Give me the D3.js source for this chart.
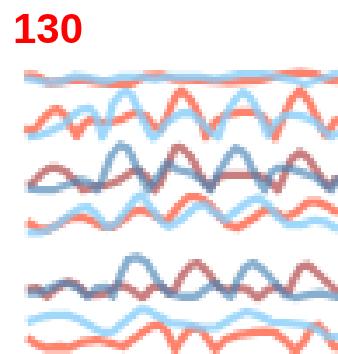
<!DOCTYPE html>
<html>
<head>
<meta charset="utf-8">
<script src="https://cdn.jsdelivr.net/npm/d3@7"></script>
<style>
  html, body { margin: 0; padding: 0; background: #fff; }
  #wrap { position: relative; width: 338px; height: 354px; }
  #lines { position: absolute; left: 0; top: 0; width: 338px; height: 354px; image-rendering: pixelated; }
  #overlay { position: absolute; left: 0; top: 0; }
</style>
</head>
<body>
<div id="wrap">
  <canvas id="lines" width="97" height="101"></canvas>
  <svg id="overlay" width="338" height="354"></svg>
</div>
<script>
// Frame label
const frameLabel = "130";

// Time domain shared by all panels
const timeDomain = [0, 313];

// Each series: [time, value above its panel baseline]
const rowA_blue = [[0,8],[20,4],[35,4],[50,10],[65,8],[80,4],[95,9],[115,9],[130,7],[143,9],[175,9],[190,7],[215,12],[240,12],[265,7],[280,2],[295,7],[313,13]];
const rowA_salmon = [[0,11],[12,10],[25,3],[40,5],[55,7],[70,4],[85,2],[105,2],[120,10],[135,11],[150,7],[175,6],[205,4],[235,6],[255,11],[275,14],[290,12],[300,7],[313,5]];

const rowB_salmon = [[0,12],[8,8],[15,17],[22,25],[28,30],[33,31],[40,25],[45,15],[52,4],[58,15],[65,20],[75,18],[85,18],[95,20],[105,25],[112,28],[122,23],[128,15],[135,10],[142,23],[150,43],[156,50],[166,40],[176,20],[181,3],[190,18],[200,25],[216,28],[230,28],[240,22],[246,10],[250,2],[256,17],[266,40],[275,50],[283,40],[293,20],[300,5],[306,13],[313,23]];
const rowB_blue = [[2,3],[15,5],[28,10],[38,15],[45,22],[55,30],[65,32],[72,22],[77,3],[82,13],[88,37],[98,48],[102,49],[108,43],[115,27],[123,10],[128,2],[135,8],[142,18],[156,27],[166,27],[176,18],[183,10],[193,3],[200,23],[210,40],[218,48],[226,42],[236,23],[243,5],[250,17],[260,25],[270,25],[280,23],[290,18],[300,8],[306,3],[313,8]];

const rowC_red = [[2,7],[8,9],[15,17],[25,24],[33,24],[42,19],[52,9],[58,2],[68,5],[82,7],[95,12],[107,20],[113,22],[122,15],[130,2],[135,9],[142,25],[150,44],[156,45],[166,35],[176,15],[185,4],[193,15],[203,17],[216,17],[233,17],[243,12],[253,2],[260,19],[266,32],[275,40],[283,34],[293,19],[303,5],[310,12],[313,15]];
const rowC_steel = [[2,4],[15,2],[28,2],[42,7],[55,12],[65,9],[72,2],[78,15],[85,35],[95,47],[103,44],[112,25],[118,12],[123,2],[132,14],[142,29],[153,22],[166,19],[176,12],[185,2],[193,19],[203,35],[211,44],[220,39],[228,22],[235,9],[240,2],[246,19],[253,24],[263,24],[276,20],[290,15],[300,7],[306,2],[313,15]];

const rowD_salmon = [[2,18],[12,12],[22,10],[32,15],[45,22],[58,23],[68,18],[78,13],[88,13],[98,20],[108,28],[118,30],[128,25],[138,20],[143,20],[153,33],[163,43],[173,43],[183,37],[193,25],[203,15],[213,12],[226,20],[240,30],[250,28],[260,22],[270,27],[283,38],[293,38],[303,33],[313,27]];
const rowD_blue = [[2,7],[15,7],[28,12],[42,23],[55,32],[63,33],[72,25],[82,12],[92,17],[102,30],[112,43],[117,45],[125,33],[135,20],[143,13],[156,20],[170,33],[180,35],[190,27],[200,20],[210,28],[223,38],[233,42],[243,35],[253,23],[263,15],[276,15],[290,20],[300,18],[310,12],[313,11]];

const rowE_red = [[2,10],[12,12],[22,3],[32,12],[43,18],[52,15],[62,5],[72,5],[82,7],[92,15],[102,13],[118,2],[128,13],[138,13],[143,7],[150,10],[156,23],[166,35],[173,37],[183,27],[193,13],[203,10],[213,12],[223,10],[233,2],[243,10],[253,13],[263,7],[270,23],[276,33],[283,35],[296,23],[310,10],[313,8]];
const rowE_steel = [[2,7],[15,7],[28,13],[38,17],[52,13],[62,3],[72,12],[82,13],[88,3],[95,23],[103,40],[112,43],[122,37],[132,20],[138,12],[143,7],[156,3],[170,3],[180,10],[190,17],[200,7],[206,3],[213,20],[221,33],[228,37],[238,30],[250,17],[260,5],[270,2],[283,5],[296,7],[310,3],[313,3]];

const rowF_blue = [[2,32],[15,36],[28,39],[42,39],[55,34],[68,26],[78,21],[88,22],[102,34],[115,44],[122,44],[135,37],[145,31],[160,29],[176,26],[193,27],[210,37],[221,42],[233,39],[246,32],[260,31],[276,29],[290,26],[303,17],[313,17]];
const rowF_salmon = [[2,16],[12,9],[22,6],[35,7],[45,6],[58,12],[72,14],[85,11],[98,7],[112,17],[125,27],[135,29],[142,22],[150,4],[156,14],[166,26],[176,24],[190,4],[200,14],[213,19],[226,21],[240,22],[250,21],[263,11],[270,2],[280,14],[286,26],[293,29],[300,22],[306,11],[313,4]];

const palette = {
  salmon: { color: "#ff6347", opacity: 0.8 },
  blue:   { color: "#87cefa", opacity: 0.8 },
  steel:  { color: "#4682b4", opacity: 0.64 },
  red:    { color: "#a52a2a", opacity: 0.6 }
};

const rows = [
  { base: 86,  series: [["salmon", rowA_salmon], ["blue", rowA_blue]] },
  { base: 140, series: [["salmon", rowB_salmon], ["blue", rowB_blue]] },
  { base: 192, series: [["red", rowC_red], ["steel", rowC_steel]] },
  { base: 240, series: [["salmon", rowD_salmon], ["blue", rowD_blue]] },
  { base: 300, series: [["red", rowE_red], ["steel", rowE_steel]] },
  { base: 354, series: [["salmon", rowF_salmon], ["blue", rowF_blue]] }
];

const W = 338, H = 354;
const canvas = document.getElementById("lines");
const ctx = canvas.getContext("2d");
ctx.setTransform(canvas.width / W, 0, 0, canvas.height / H, 0, 0);
ctx.fillStyle = "#fff";
ctx.fillRect(0, 0, W, H);

const x = d3.scaleLinear().domain(timeDomain).range([25, 338]);

rows.forEach(row => {
  const y = d3.scaleLinear().domain([0, 50]).range([row.base, row.base - 50]);
  const line = d3.line().x(d => x(d[0])).y(d => y(d[1])).curve(d3.curveLinear).context(ctx);
  row.series.forEach(([key, data]) => {
    ctx.beginPath();
    line(data);
    ctx.globalAlpha = palette[key].opacity;
    ctx.strokeStyle = palette[key].color;
    ctx.lineWidth = 8;
    ctx.lineJoin = "round";
    ctx.stroke();
  });
});
ctx.globalAlpha = 1;

d3.select("#overlay").append("text")
  .attr("x", 13)
  .attr("y", 43)
  .attr("fill", "#ff0000")
  .attr("font-family", "Liberation Sans, Arial, sans-serif")
  .attr("font-weight", "bold")
  .attr("font-size", 42)
  .text(frameLabel);
</script>
</body>
</html>
